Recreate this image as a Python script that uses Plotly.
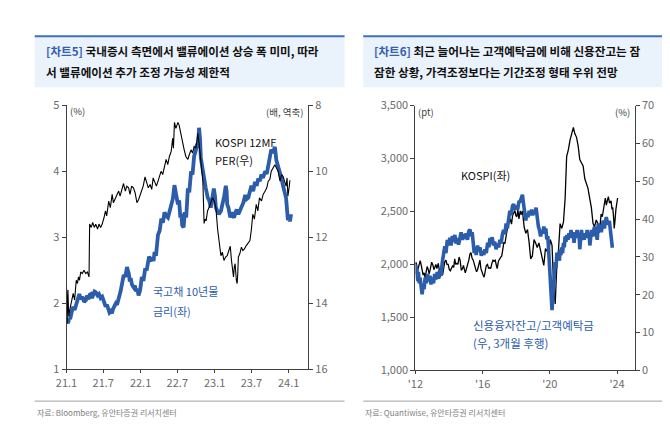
import plotly.graph_objects as go

# ---------------- Left chart data ----------------
yield_dates = ["2021-01-04","2021-01-09","2021-01-14","2021-01-19","2021-01-26","2021-02-03","2021-02-10",
    "2021-02-18","2021-02-25","2021-03-05","2021-03-12","2021-03-21","2021-03-29","2021-04-07","2021-04-13",
    "2021-04-19","2021-04-25","2021-05-01","2021-05-07","2021-05-13","2021-05-19","2021-05-25","2021-06-03",
    "2021-06-10","2021-06-18","2021-06-26","2021-07-05","2021-07-13","2021-07-19","2021-07-25","2021-08-01",
    "2021-08-07","2021-08-13","2021-08-19","2021-08-25","2021-09-01","2021-09-07","2021-09-13","2021-09-19",
    "2021-09-25","2021-10-03","2021-10-10","2021-10-18","2021-10-26","2021-11-01","2021-11-04","2021-11-09",
    "2021-11-13","2021-11-20","2021-11-28","2021-12-04","2021-12-10","2021-12-16","2021-12-22","2021-12-30",
    "2022-01-07","2022-01-15","2022-01-24","2022-01-31","2022-02-07","2022-02-12","2022-02-17","2022-02-24",
    "2022-03-01","2022-03-06","2022-03-11","2022-03-18","2022-03-28","2022-04-05","2022-04-13","2022-04-21",
    "2022-04-29","2022-05-06","2022-05-16","2022-05-24","2022-06-01","2022-06-09","2022-06-17","2022-06-21",
    "2022-06-25","2022-07-04","2022-07-10","2022-07-16","2022-07-21","2022-07-25","2022-08-01","2022-08-07",
    "2022-08-14","2022-08-22","2022-08-29","2022-09-07","2022-09-14","2022-09-22","2022-09-29","2022-10-07",
    "2022-10-12","2022-10-16","2022-10-21","2022-10-25","2022-11-02","2022-11-10","2022-11-18","2022-11-28",
    "2022-12-06","2022-12-13","2022-12-20","2022-12-28","2023-01-03","2023-01-07","2023-01-14","2023-01-22",
    "2023-02-01","2023-02-10","2023-02-17","2023-02-25","2023-03-01","2023-03-04","2023-03-10","2023-03-19",
    "2023-03-26","2023-04-01","2023-04-07","2023-04-13","2023-04-20","2023-04-28","2023-05-06","2023-05-13",
    "2023-05-22","2023-06-01","2023-06-08","2023-06-16","2023-06-24","2023-07-01","2023-07-10","2023-07-19",
    "2023-07-27","2023-08-04","2023-08-12","2023-08-19","2023-08-27","2023-09-07","2023-09-15","2023-09-22",
    "2023-09-30","2023-10-07","2023-10-15","2023-10-25","2023-11-01","2023-11-08","2023-11-19","2023-11-26",
    "2023-12-04","2023-12-12","2023-12-19","2023-12-23","2023-12-28","2024-01-03","2024-01-07","2024-01-13"]
yield_10y = [1.72,1.70,1.78,1.76,1.86,1.95,1.90,
    2.00,2.06,2.14,2.06,2.10,2.02,2.05,2.12,
    2.06,2.13,2.14,2.08,2.12,2.18,2.17,2.12,
    2.14,2.08,2.10,2.02,1.95,1.98,1.90,1.86,
    1.88,1.85,1.92,1.96,2.00,1.98,2.08,2.12,
    2.19,2.30,2.43,2.40,2.55,2.48,2.45,2.33,
    2.38,2.28,2.24,2.27,2.18,2.22,2.12,2.20,
    2.40,2.34,2.53,2.50,2.62,2.71,2.67,2.64,
    2.70,2.64,2.78,2.72,3.04,3.10,3.28,3.22,
    3.38,3.33,3.30,3.40,3.50,3.58,3.79,3.70,
    3.65,3.50,3.56,3.30,3.36,3.18,3.15,3.38,
    3.30,3.74,3.68,4.00,3.95,4.23,4.30,4.42,
    4.35,4.66,4.50,4.20,4.05,3.84,3.75,3.60,
    3.55,3.45,3.60,3.74,3.62,3.45,3.40,3.35,
    3.40,3.50,3.62,3.78,3.70,3.50,3.45,3.30,
    3.38,3.32,3.30,3.37,3.42,3.35,3.40,3.45,
    3.52,3.64,3.58,3.60,3.70,3.78,3.70,3.84,
    3.78,3.89,3.85,3.95,3.90,4.00,3.96,4.08,
    4.20,4.33,4.28,4.37,4.17,4.10,3.99,3.90,
    3.78,3.70,3.60,3.45,3.26,3.30,3.24,3.35]

per_dates = ["2021-01-01","2021-01-04","2021-01-08","2021-01-12","2021-01-17","2021-01-25","2021-02-03",
    "2021-02-10","2021-02-18","2021-02-24","2021-03-01","2021-03-06","2021-03-12","2021-03-20","2021-03-28",
    "2021-04-06","2021-04-14","2021-04-22","2021-04-25","2021-05-03","2021-05-10","2021-05-18","2021-05-25",
    "2021-06-03","2021-06-10","2021-06-18","2021-06-26","2021-07-05","2021-07-12","2021-07-18","2021-07-28",
    "2021-08-05","2021-08-14","2021-08-20","2021-08-28","2021-09-06","2021-09-15","2021-09-22","2021-10-01",
    "2021-10-09","2021-10-18","2021-10-25","2021-11-03","2021-11-10","2021-11-18","2021-11-27","2021-12-05",
    "2021-12-14","2021-12-22","2021-12-30","2022-01-07","2022-01-14","2022-01-23","2022-01-30","2022-02-08",
    "2022-02-17","2022-02-25","2022-03-04","2022-03-11","2022-03-20","2022-03-28","2022-04-05","2022-04-12",
    "2022-04-20","2022-04-28","2022-05-07","2022-05-15","2022-05-23","2022-06-01","2022-06-08","2022-06-12",
    "2022-06-17","2022-06-24","2022-07-04","2022-07-10","2022-07-19","2022-07-27","2022-08-04","2022-08-12",
    "2022-08-22","2022-08-29","2022-09-07","2022-09-14","2022-09-22","2022-10-01","2022-10-10","2022-10-17",
    "2022-10-25","2022-11-04","2022-11-10","2022-11-15","2022-11-20","2022-11-27","2022-12-04","2022-12-12",
    "2022-12-22","2022-12-30","2023-01-07","2023-01-16","2023-01-24","2023-02-01","2023-02-08","2023-02-16",
    "2023-02-24","2023-03-04","2023-03-12","2023-03-19","2023-03-25","2023-04-01","2023-04-04","2023-04-08",
    "2023-04-12","2023-04-18","2023-04-22","2023-04-25","2023-04-28","2023-05-05","2023-05-13","2023-05-20",
    "2023-05-28","2023-06-06","2023-06-16","2023-06-24","2023-07-01","2023-07-08","2023-07-16","2023-07-25",
    "2023-08-02","2023-08-10","2023-08-20","2023-08-28","2023-09-07","2023-09-15","2023-09-22","2023-09-30",
    "2023-10-07","2023-10-15","2023-10-25","2023-11-02","2023-11-10","2023-11-19","2023-11-27","2023-12-04",
    "2023-12-12","2023-12-19","2023-12-24","2023-12-28","2024-01-03","2024-01-07"]
kospi_per = [13.5,14.6,13.6,14.4,14.2,13.9,13.7,
    13.9,13.3,13.4,13.2,13.3,13.05,13.1,13.0,
    13.1,13.05,13.2,11.6,11.7,11.55,11.7,11.6,
    11.75,11.6,11.7,11.6,11.4,11.2,11.35,10.9,
    11.1,10.7,10.95,10.85,10.7,10.6,10.75,10.55,
    10.37,10.6,10.45,10.5,10.7,10.45,10.5,10.65,
    10.95,10.86,10.7,10.6,10.45,10.17,10.3,10.5,
    10.4,10.55,10.2,10.3,10.45,10.3,10.15,10.0,
    10.1,9.85,9.64,9.8,9.55,9.4,9.0,9.3,
    8.52,8.7,8.52,8.6,8.86,9.2,9.35,9.55,
    9.64,9.5,9.35,9.45,9.25,9.3,8.85,9.2,
    9.64,10.3,11.58,11.45,11.5,11.2,11.1,10.95,
    10.8,10.9,11.1,11.77,12.2,12.56,12.45,12.7,
    12.6,12.56,12.4,12.27,12.7,13.0,13.2,12.9,
    12.8,13.3,13.4,13.1,12.6,12.5,12.3,12.4,
    12.35,12.25,12.17,12.1,11.77,11.3,11.45,11.0,
    11.2,10.8,10.9,10.7,10.6,10.5,10.3,10.25,
    10.0,9.9,9.8,9.9,10.0,10.3,10.1,10.15,
    10.3,10.45,10.2,10.75,10.5,10.27]

left_xticks = ["2021-01-01","2021-07-01","2022-01-01","2022-07-01","2023-01-01","2023-07-01","2024-01-01"]
left_xlabels = ["21.1","21.7","22.1","22.7","23.1","23.7","24.1"]

# ---------------- Right chart data ----------------
kospi_years = [2012.0,2012.04,2012.08,2012.1,2012.14,2012.2,2012.25,2012.29,2012.35,2012.4,2012.46,2012.52,
    2012.58,2012.64,2012.7,2012.75,2012.82,2012.88,2012.93,2012.97,2013.05,2013.1,2013.15,2013.22,2013.28,
    2013.36,2013.42,2013.48,2013.55,2013.62,2013.68,2013.75,2013.82,2013.88,2013.95,2014.02,2014.08,2014.14,
    2014.22,2014.28,2014.34,2014.4,2014.47,2014.53,2014.6,2014.66,2014.73,2014.8,2014.86,2014.92,2014.97,
    2015.04,2015.12,2015.18,2015.25,2015.31,2015.37,2015.44,2015.51,2015.58,2015.64,2015.7,2015.77,2015.84,
    2015.9,2015.96,2016.03,2016.09,2016.16,2016.22,2016.29,2016.36,2016.42,2016.48,2016.55,2016.62,2016.68,
    2016.75,2016.82,2016.87,2016.94,2017.0,2017.07,2017.14,2017.2,2017.26,2017.33,2017.4,2017.46,2017.53,
    2017.6,2017.65,2017.72,2017.78,2017.85,2017.92,2017.98,2018.04,2018.1,2018.16,2018.24,2018.3,2018.37,
    2018.47,2018.57,2018.67,2018.77,2018.86,2018.96,2019.06,2019.16,2019.25,2019.35,2019.45,2019.54,2019.64,
    2019.74,2019.84,2019.93,2020.03,2020.13,2020.23,2020.32,2020.42,2020.52,2020.61,2020.71,2020.81,2020.91,
    2021.0,2021.1,2021.2,2021.3,2021.4,2021.49,2021.59,2021.69,2021.78,2021.88,2021.98,2022.08,2022.18,
    2022.27,2022.37,2022.47,2022.57,2022.66,2022.76,2022.86,2022.95,2023.05,2023.12,2023.2,2023.3,2023.36,
    2023.42,2023.48,2023.55,2023.64,2023.7,2023.74,2023.8,2023.83,2023.88,2023.93,2024.03]
kospi = [2000,2020,1990,1840,1950,1990,2030,2036,1990,1960,1900,1920,
    1873,1930,1980,1960,1910,1950,1990,2021,1990,1950,1970,2000,1960,
    2010,1950,1880,1930,1900,1960,2025,2040,2000,2000,1950,1940,1960,
    1990,1970,2052,2000,2010,2000,2070,2040,1945,1960,1990,1950,1920,
    1960,2000,2040,2100,2112,2060,2040,2000,1960,1930,1950,2010,2040,
    1960,1920,1900,1880,1930,1990,2000,1960,1970,1960,2010,2040,2030,
    2040,1990,1960,2030,2050,2067,2080,2150,2203,2200,2300,2325,2390,
    2400,2430,2380,2460,2491,2510,2460,2450,2520,2430,2506,2470,2506,
    2355,2294,2330,2203,2052,2080,2234,2200,2160,2203,2130,2082,1991,
    2150,2120,2100,2234,2180,1779,1627,2010,2150,2385,2340,2400,2627,
    3021,3082,3173,3233,3294,3233,3200,3112,2991,2960,2930,2809,2760,
    2718,2627,2536,2385,2355,2420,2385,2300,2476,2450,2520,2627,2560,
    2600,2640,2580,2600,2520,2540,2430,2339,2420,2520,2627]

ratio_years = [2012.0,2012.04,2012.08,2012.13,2012.18,2012.23,2012.28,2012.33,2012.4,2012.46,2012.52,2012.58,
    2012.65,2012.72,2012.8,2012.87,2012.93,2013.0,2013.08,2013.15,2013.22,2013.3,2013.38,2013.45,2013.52,
    2013.6,2013.67,2013.75,2013.82,2013.9,2013.97,2014.05,2014.12,2014.2,2014.28,2014.35,2014.42,2014.5,
    2014.57,2014.65,2014.72,2014.8,2014.87,2014.95,2015.02,2015.1,2015.18,2015.25,2015.32,2015.38,2015.44,
    2015.5,2015.56,2015.62,2015.7,2015.77,2015.85,2015.92,2016.0,2016.07,2016.14,2016.22,2016.3,2016.37,
    2016.44,2016.5,2016.57,2016.64,2016.72,2016.8,2016.88,2016.95,2017.03,2017.1,2017.18,2017.25,2017.32,
    2017.4,2017.47,2017.55,2017.62,2017.7,2017.78,2017.85,2017.93,2018.0,2018.08,2018.16,2018.24,2018.3,
    2018.37,2018.42,2018.47,2018.52,2018.57,2018.63,2018.7,2018.77,2018.85,2018.92,2018.98,2019.05,2019.12,
    2019.18,2019.25,2019.32,2019.38,2019.45,2019.52,2019.58,2019.64,2019.7,2019.76,2019.82,2019.88,2019.93,
    2019.98,2020.03,2020.08,2020.13,2020.18,2020.23,2020.28,2020.32,2020.37,2020.42,2020.47,2020.52,2020.57,
    2020.61,2020.66,2020.71,2020.76,2020.81,2020.86,2020.91,2020.96,2021.02,2021.08,2021.14,2021.2,2021.26,
    2021.32,2021.38,2021.44,2021.5,2021.56,2021.62,2021.68,2021.74,2021.78,2021.83,2021.88,2021.94,2021.98,
    2022.04,2022.1,2022.16,2022.22,2022.28,2022.34,2022.38,2022.43,2022.48,2022.53,2022.6,2022.66,2022.71,
    2022.76,2022.82,2022.88,2022.94,2023.0,2023.06,2023.12,2023.18,2023.24,2023.3,2023.36,2023.42,2023.48,
    2023.54,2023.6,2023.66,2023.72]
credit_ratio = [28.0,25.5,27.0,24.0,26.0,23.0,24.5,21.5,20.1,22.5,21.5,24.5,
    23.0,25.5,23.5,25.0,22.7,24.5,23.0,25.5,24.0,26.0,24.2,26.5,25.0,
    28.5,30.0,32.8,31.0,34.5,33.0,35.0,33.0,35.5,34.0,35.8,33.5,35.0,
    33.2,35.5,36.5,34.5,36.0,34.8,36.2,34.5,36.8,37.2,35.5,36.5,33.5,
    31.0,32.5,30.5,33.0,31.5,32.5,30.3,31.5,30.5,32.0,31.0,33.7,32.5,
    35.0,33.5,35.2,33.0,34.0,32.0,33.5,32.5,34.5,33.5,36.0,37.1,36.0,
    38.8,37.5,40.0,42.2,41.0,43.5,43.9,42.5,43.5,42.5,44.5,44.7,45.5,
    46.4,44.5,43.0,41.0,39.6,41.5,40.5,42.2,41.0,42.5,41.0,42.0,41.5,
    43.0,39.6,38.0,37.1,35.4,37.0,36.2,38.0,36.8,37.5,34.6,35.5,32.0,
    29.0,23.5,19.0,15.9,19.5,23.5,26.5,28.6,27.0,31.1,29.0,30.5,29.0,
    32.0,30.5,32.5,31.0,33.7,32.5,35.4,34.0,35.8,34.5,36.2,35.0,37.1,
    35.5,36.5,33.7,36.2,35.0,37.1,35.4,36.0,32.0,35.0,37.1,35.0,36.0,
    34.5,36.2,35.0,37.1,35.4,36.0,33.0,35.5,37.1,35.4,36.5,38.0,35.5,
    36.2,34.5,38.8,37.0,38.0,36.5,38.5,39.6,37.5,38.8,40.5,39.0,38.8,
    39.5,36.5,35.4,32.4]

right_xticks = [2012, 2016, 2020, 2024]
right_xlabels = ["'12", "'16", "'20", "'24"]

# ---------------- styles ----------------
BLUE = "#2B5DAB"
AX = "#404040"
TICK = "#6b6b6b"
FONT = "Noto Sans CJK KR"
W, H = 670, 429

def fx(px):
    return px / W

def fy(py):
    return 1 - py / H

fig = go.Figure()

fig.add_trace(go.Scatter(x=yield_dates, y=yield_10y, mode="lines", xaxis="x", yaxis="y",
                         line=dict(color=BLUE, width=3.8), showlegend=False))
fig.add_trace(go.Scatter(x=per_dates, y=kospi_per, mode="lines", xaxis="x", yaxis="y2",
                         line=dict(color="#000000", width=1.1), showlegend=False))
fig.add_trace(go.Scatter(x=ratio_years, y=credit_ratio, mode="lines", xaxis="x2", yaxis="y4",
                         line=dict(color=BLUE, width=3.6), showlegend=False))
fig.add_trace(go.Scatter(x=kospi_years, y=kospi, mode="lines", xaxis="x2", yaxis="y3",
                         line=dict(color="#000000", width=1.3), showlegend=False))

axcommon = dict(showgrid=False, zeroline=False, showline=True, linecolor=AX, linewidth=1,
                ticks="outside", ticklen=4, tickcolor=AX, tickfont=dict(family=FONT, size=11, color=TICK))

fig.update_layout(
    width=W, height=H, margin=dict(l=0, r=0, t=0, b=0),
    paper_bgcolor="white", plot_bgcolor="white",
    font=dict(family=FONT),
    xaxis=dict(domain=[fx(48.3), fx(294)], anchor="y", type="date",
               range=["2021-01-01", "2024-04-06"], tickvals=left_xticks, ticktext=left_xlabels,
               **{**axcommon, "ticklen": 3}),
    yaxis=dict(domain=[fy(366), fy(91.7)], anchor="x", range=[1, 5], tickvals=[1, 2, 3, 4, 5], **axcommon),
    yaxis2=dict(overlaying="y", anchor="x", side="right", range=[16, 8],
                tickvals=[8, 10, 12, 14, 16], **axcommon),
    xaxis2=dict(domain=[fx(403), fx(626)], anchor="y3", range=[2012, 2025.05],
                tickvals=right_xticks, ticktext=right_xlabels, **{**axcommon, "ticklen": 3}),
    yaxis3=dict(domain=[fy(367), fy(92)], anchor="x2", range=[1000, 3500],
                tickvals=[1000, 1500, 2000, 2500, 3000, 3500], tickformat=",", **axcommon),
    yaxis4=dict(overlaying="y3", anchor="x2", side="right", range=[0, 70],
                tickvals=[0, 10, 20, 30, 40, 50, 60, 70], **axcommon),
)

shapes = []
for x0, x1 in [(16, 331), (350, 665)]:
    shapes.append(dict(type="rect", xref="paper", yref="paper", x0=fx(x0), x1=fx(x1), y0=fy(73), y1=fy(20),
                       fillcolor="#EAF2FB", line=dict(width=0), layer="below"))
    shapes.append(dict(type="line", xref="paper", yref="paper", x0=fx(x0), x1=fx(x1), y0=fy(20), y1=fy(20),
                       line=dict(color="#3D6FC2", width=2)))
    shapes.append(dict(type="line", xref="paper", yref="paper", x0=fx(x0), x1=fx(x1), y0=fy(399), y1=fy(399),
                       line=dict(color="#A0A0A0", width=1)))
fig.update_layout(shapes=shapes)

ann = []
def txt(x, y, s, size=11, color="#000000", xanchor="left", bold=False):
    ann.append(dict(xref="paper", yref="paper", x=fx(x), y=fy(y), text=("<b>%s</b>" % s) if bold else s,
                    showarrow=False, xanchor=xanchor, yanchor="middle",
                    font=dict(family=FONT, size=size, color=color)))

TB = "#3560AE"
txt(25, 35, "<span style='color:%s'>[차트5]</span> 국내증시 측면에서 밸류에이션 상승 폭 미미, 따라" % TB, 11.6, "#111111", bold=True)
txt(25, 57, "서 밸류에이션 추가 조정 가능성 제한적", 11.6, "#111111", bold=True)
txt(359, 35, "<span style='color:%s'>[차트6]</span> 최근 늘어나는 고객예탁금에 비해 신용잔고는 잠" % TB, 11.6, "#111111", bold=True)
txt(359, 57, "잠한 상황, 가격조정보다는 기간조정 형태 우위 전망", 11.6, "#111111", bold=True)

txt(50, 98, "(%)", 9.5, "#404040")
txt(291, 99, "(배, 역축)", 9.5, "#404040", xanchor="right")
txt(197, 130, "KOSPI 12MF", 11, "#111111")
txt(197, 149, "PER(우)", 11, "#111111")
txt(134, 285, "국고채 10년물", 11, BLUE)
txt(134, 305, "금리(좌)", 11, BLUE)

txt(404, 99, "(pt)", 9.5, "#404040")
txt(623, 99, "(%)", 9.5, "#404040", xanchor="right")
txt(447, 164, "KOSPI(좌)", 11, "#111111")
txt(460, 320, "신용융자잔고/고객예탁금", 11.5, BLUE)
txt(460, 339, "(우, 3개월 후행)", 11.5, BLUE)

txt(16, 411, "자료: Bloomberg, 유안타증권 리서치센터", 8, "#808080")
txt(350, 411, "자료: Quantiwise, 유안타증권 리서치센터", 8, "#808080")
fig.update_layout(annotations=ann)

fig.write_html("out.html")
